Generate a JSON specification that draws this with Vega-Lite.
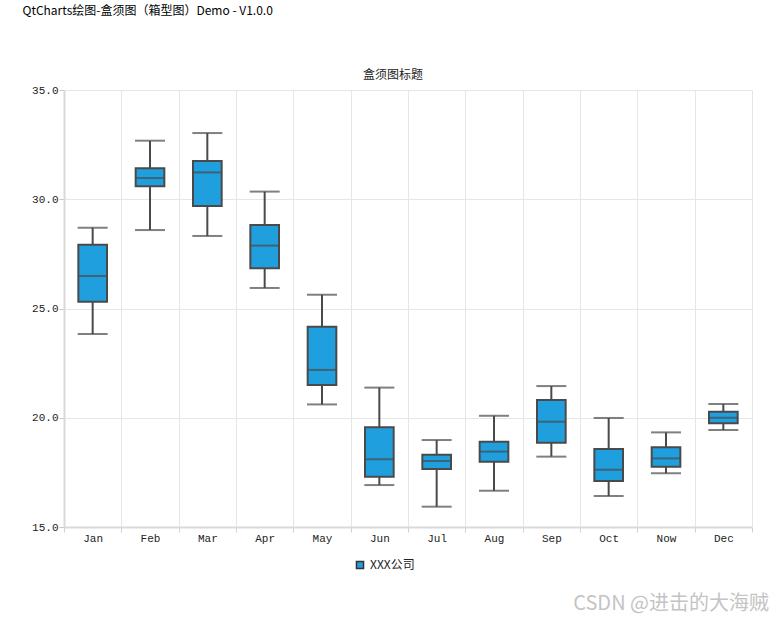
{
  "$schema": "https://vega.github.io/schema/vega-lite/v6.json",
  "background": "white",
  "padding": {"left": 22, "top": 4, "right": 10, "bottom": 2},
  "config": {
    "view": {"stroke": "#e6e6e6", "strokeWidth": 1},
    "concat": {"spacing": 0}
  },
  "title": {
    "text": "QtCharts绘图-盒须图（箱型图）Demo - V1.0.0",
    "anchor": "start",
    "frame": "bounds",
    "offset": 51,
    "font": "Noto Sans CJK SC",
    "fontSize": 12,
    "fontWeight": "normal",
    "color": "#000000"
  },
  "data": {
    "values": [
      {"month": "Jan", "series": "XXX公司", "lower": 23.83, "q1": 25.31, "median": 26.49, "q3": 27.92, "upper": 28.70},
      {"month": "Feb", "series": "XXX公司", "lower": 28.59, "q1": 30.59, "median": 30.97, "q3": 31.42, "upper": 32.68},
      {"month": "Mar", "series": "XXX公司", "lower": 28.32, "q1": 29.69, "median": 31.23, "q3": 31.75, "upper": 33.03},
      {"month": "Apr", "series": "XXX公司", "lower": 25.94, "q1": 26.84, "median": 27.88, "q3": 28.82, "upper": 30.35},
      {"month": "May", "series": "XXX公司", "lower": 20.61, "q1": 21.50, "median": 22.19, "q3": 24.17, "upper": 25.63},
      {"month": "Jun", "series": "XXX公司", "lower": 16.92, "q1": 17.30, "median": 18.10, "q3": 19.56, "upper": 21.38},
      {"month": "Jul", "series": "XXX公司", "lower": 15.93, "q1": 17.65, "median": 18.02, "q3": 18.31, "upper": 18.98},
      {"month": "Aug", "series": "XXX公司", "lower": 16.66, "q1": 17.99, "median": 18.45, "q3": 18.90, "upper": 20.09},
      {"month": "Sep", "series": "XXX公司", "lower": 18.22, "q1": 18.86, "median": 19.82, "q3": 20.81, "upper": 21.45},
      {"month": "Oct", "series": "XXX公司", "lower": 16.42, "q1": 17.11, "median": 17.62, "q3": 18.57, "upper": 19.99},
      {"month": "Now", "series": "XXX公司", "lower": 17.46, "q1": 17.76, "median": 18.14, "q3": 18.65, "upper": 19.33},
      {"month": "Dec", "series": "XXX公司", "lower": 19.44, "q1": 19.75, "median": 20.00, "q3": 20.28, "upper": 20.63}
    ]
  },
  "resolve": {"legend": {"color": "independent"}},
  "vconcat": [
    {
      "title": {
        "text": "CSDN @进击的大海贼",
        "orient": "bottom",
        "anchor": "end",
        "frame": "bounds",
        "dx": 16,
        "offset": 21,
        "font": "Noto Sans CJK SC",
        "fontSize": 20,
        "fontWeight": "normal",
        "color": "#c4c4c4"
      },
      "resolve": {"legend": {"color": "independent"}},
      "vconcat": [
        {
          "title": {
            "text": "盒须图标题",
            "anchor": "middle",
            "offset": 2,
            "dx": -15,
            "font": "Noto Sans CJK SC",
            "fontSize": 12,
            "fontWeight": "normal",
            "color": "#222222"
          },
          "width": 688,
          "height": 437,
          "encoding": {
            "x": {
              "field": "month",
              "type": "nominal",
              "sort": null,
              "scale": {"type": "band", "paddingInner": 0, "paddingOuter": 0},
              "axis": {
                "title": null,
                "labelAngle": 0,
                "tickBand": "extent",
                "grid": true,
                "gridColor": "#e6e6e6",
                "gridWidth": 1,
                "domainColor": "#d9d9d9",
                "domainWidth": 2,
                "tickColor": "#d0d0d0",
                "tickSize": 5,
                "labelPadding": 0,
                "labelFont": "Liberation Mono",
                "labelFontSize": 11,
                "labelColor": "#222222"
              }
            }
          },
          "layer": [
            {
              "mark": {"type": "rule", "color": "#4a4a4a", "strokeWidth": 2},
              "encoding": {
                "y": {
                  "field": "lower",
                  "type": "quantitative",
                  "scale": {"domain": [15, 35], "nice": false, "zero": false},
                  "axis": {
                    "title": null,
                    "values": [15, 20, 25, 30, 35],
                    "format": ".1f",
                    "minExtent": 41,
                    "grid": true,
                    "gridColor": "#e6e6e6",
                    "gridWidth": 1,
                    "domainColor": "#d9d9d9",
                    "domainWidth": 2,
                    "tickColor": "#c8c8c8",
                    "tickSize": 5,
                    "labelPadding": 1,
                    "labelFont": "Liberation Mono",
                    "labelFontSize": 11,
                    "labelColor": "#222222"
                  }
                },
                "y2": {"field": "upper"}
              }
            },
            {
              "mark": {"type": "bar", "width": {"band": 0.5}, "stroke": "#4a4a4a", "strokeWidth": 2},
              "encoding": {
                "y": {"field": "q1", "type": "quantitative"},
                "y2": {"field": "q3"},
                "color": {
                  "field": "series",
                  "type": "nominal",
                  "scale": {"range": ["#209fdf"]},
                  "legend": {
                    "title": null,
                    "orient": "none",
                    "legendX": 290,
                    "legendY": 469,
                    "symbolType": "square",
                    "symbolSize": 50,
                    "symbolStrokeColor": "#333333",
                    "symbolStrokeWidth": 1.5,
                    "labelFont": "Noto Sans CJK SC",
                    "labelFontSize": 12,
                    "labelColor": "#222222"
                  }
                }
              }
            },
            {
              "mark": {"type": "tick", "color": "#4a4a4a", "thickness": 2, "size": 29},
              "encoding": {"y": {"field": "median", "type": "quantitative"}}
            },
            {
              "mark": {"type": "tick", "color": "#4a4a4a", "thickness": 2, "size": 30},
              "encoding": {"y": {"field": "lower", "type": "quantitative"}}
            },
            {
              "mark": {"type": "tick", "color": "#4a4a4a", "thickness": 2, "size": 30},
              "encoding": {"y": {"field": "upper", "type": "quantitative"}}
            }
          ]
        }
      ]
    }
  ]
}
